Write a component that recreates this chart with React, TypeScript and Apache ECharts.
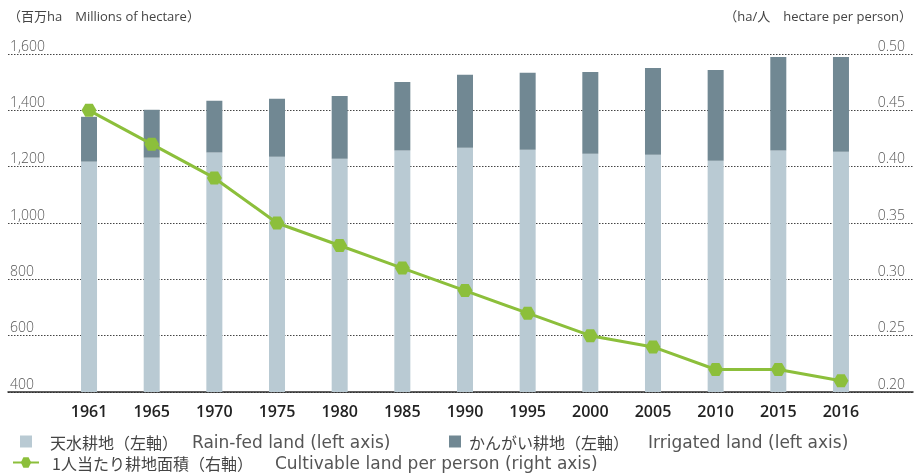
import React, { useEffect, useRef } from "react";
import * as echarts from "echarts";

const years = ["1961", "1965", "1970", "1975", "1980", "1985", "1990", "1995", "2000", "2005", "2010", "2015", "2016"];
const rainFed = [1218, 1232, 1250, 1235, 1228, 1257, 1267, 1260, 1246, 1242, 1221, 1257, 1253];
const irrigated = [159, 170, 184, 206, 223, 244, 259, 273, 290, 308, 322, 332, 336];
const perPerson = [0.45, 0.42, 0.39, 0.35, 0.33, 0.31, 0.29, 0.27, 0.25, 0.24, 0.22, 0.22, 0.21];

const NAME_RAIN = "天水耕地（左軸）　Rain-fed land (left axis)";
const NAME_IRR = "かんがい耕地（左軸）　Irrigated land (left axis)";
const NAME_PP = "1人当たり耕地面積（右軸）　Cultivable land per person (right axis)";

const FONT = "'Open Sans', 'Noto Sans CJK JP', sans-serif";
const CJK = "'Noto Sans CJK JP', sans-serif";
const LAT = "'DejaVu Sans', 'Open Sans', sans-serif";
const HEX = "path://M0,6 L3.5,0 L10.5,0 L14,6 L10.5,12 L3.5,12 Z";

const latStyle = (pad: number) => ({
  fontSize: 17, fontFamily: LAT, color: "#555", lineHeight: 16, padding: [0, 0, 0, pad],
});
const legendText = {
  fontSize: 16,
  color: "#444",
  lineHeight: 16,
  rich: {
    c: { fontSize: 16, fontFamily: CJK, color: "#444", lineHeight: 16 },
    a: latStyle(6),
    b: latStyle(11),
    d: latStyle(14),
  },
};
const fmtWith = (key: string) => (name: string) => {
  const parts = name.split("　");
  return `{c|${parts[0]}　}{${key}|${parts[1]}}`;
};

export default function App() {
  const ref = useRef<HTMLDivElement>(null);
  useEffect(() => {
    if (!ref.current) return;
    const chart = echarts.init(ref.current, undefined, { renderer: "svg" });
    const top = 54;
    const height = 338;
    chart.setOption({
      animation: false,
      textStyle: { fontFamily: FONT },
      grid: [
        { left: 8, width: 905, top, height },
        { left: 57.7, width: 814.6, top, height },
      ],
      xAxis: [
        {
          gridIndex: 0, type: "value", min: 0, max: 1, show: true,
          axisLine: { show: true, onZero: false, lineStyle: { color: "#2b2b2b", width: 1.5 } },
          axisTick: { show: false }, axisLabel: { show: false }, splitLine: { show: false },
        },
        {
          gridIndex: 1, type: "category", data: years,
          axisLine: { show: false }, axisTick: { show: false },
          axisLabel: { margin: 11, fontSize: 16, fontWeight: 600, color: "#222", fontFamily: FONT },
        },
      ],
      yAxis: [
        {
          gridIndex: 0, type: "value", min: 400, max: 1600, interval: 200, position: "left",
          axisLine: { show: false }, axisTick: { show: false },
          axisLabel: {
            inside: true, margin: 2, fontSize: 14, fontWeight: 300, color: "#555",
            verticalAlign: "bottom", padding: [0, 0, 2, 0], fontFamily: FONT,
            formatter: (v: number) => v.toLocaleString("en-US"),
          },
          splitLine: { show: true, lineStyle: { color: "#444", type: [1.5, 1.5], width: 1 } },
        },
        {
          gridIndex: 0, type: "value", min: 0.2, max: 0.5, interval: 0.05, position: "right",
          axisLine: { show: false }, axisTick: { show: false },
          axisLabel: {
            inside: true, margin: 8, fontSize: 14, fontWeight: 300, color: "#555",
            verticalAlign: "bottom", padding: [0, 0, 2, 0], fontFamily: FONT,
            formatter: (v: number) => v.toFixed(2),
          },
          splitLine: { show: false },
        },
        { gridIndex: 1, type: "value", min: 400, max: 1600, show: false, splitLine: { show: false } },
        { gridIndex: 1, type: "value", min: 0.2, max: 0.5, show: false, splitLine: { show: false } },
      ],
      legend: [
        {
          data: [{ name: NAME_RAIN, icon: "rect" }], left: 20, top: 433, padding: 0,
          itemWidth: 12, itemHeight: 12, formatter: fmtWith("a"),
          textStyle: { ...legendText, padding: [0, 0, 0, 13] },
        },
        {
          data: [{ name: NAME_IRR, icon: "rect" }], left: 449, top: 433, padding: 0,
          itemWidth: 12, itemHeight: 12, formatter: fmtWith("b"),
          textStyle: { ...legendText, padding: [0, 0, 0, 3] },
        },
        {
          data: [{ name: NAME_PP }], left: 12, top: 454, padding: 0,
          itemWidth: 26, itemHeight: 13, formatter: fmtWith("d"),
          textStyle: { ...legendText, padding: [0, 0, 0, 8] },
        },
      ],
      graphic: [
        {
          type: "text", left: 8, top: 9,
          style: { text: "（百万ha　Millions of hectare）", fontSize: 13, fill: "#444", fontFamily: FONT },
        },
        {
          type: "text", right: 3, top: 9,
          style: { text: "（ha/人　hectare per person）", fontSize: 13, fill: "#444", fontFamily: FONT },
        },
      ],
      series: [
        {
          name: NAME_RAIN, type: "bar", stack: "land", xAxisIndex: 1, yAxisIndex: 2,
          data: rainFed, barWidth: 16, itemStyle: { color: "#b9cad3" },
        },
        {
          name: NAME_IRR, type: "bar", stack: "land", xAxisIndex: 1, yAxisIndex: 2,
          data: irrigated, barWidth: 16, itemStyle: { color: "#718893" },
        },
        {
          name: NAME_PP, type: "line", xAxisIndex: 1, yAxisIndex: 3, data: perPerson,
          symbol: HEX, symbolSize: [15, 13], z: 5,
          lineStyle: { color: "#8cbf3b", width: 3 },
          itemStyle: { color: "#8cbf3b" },
        },
      ],
    });
    return () => chart.dispose();
  }, []);
  return <div ref={ref} style={{ position: "fixed", left: 0, top: 0, width: 915, height: 473 }} />;
}
